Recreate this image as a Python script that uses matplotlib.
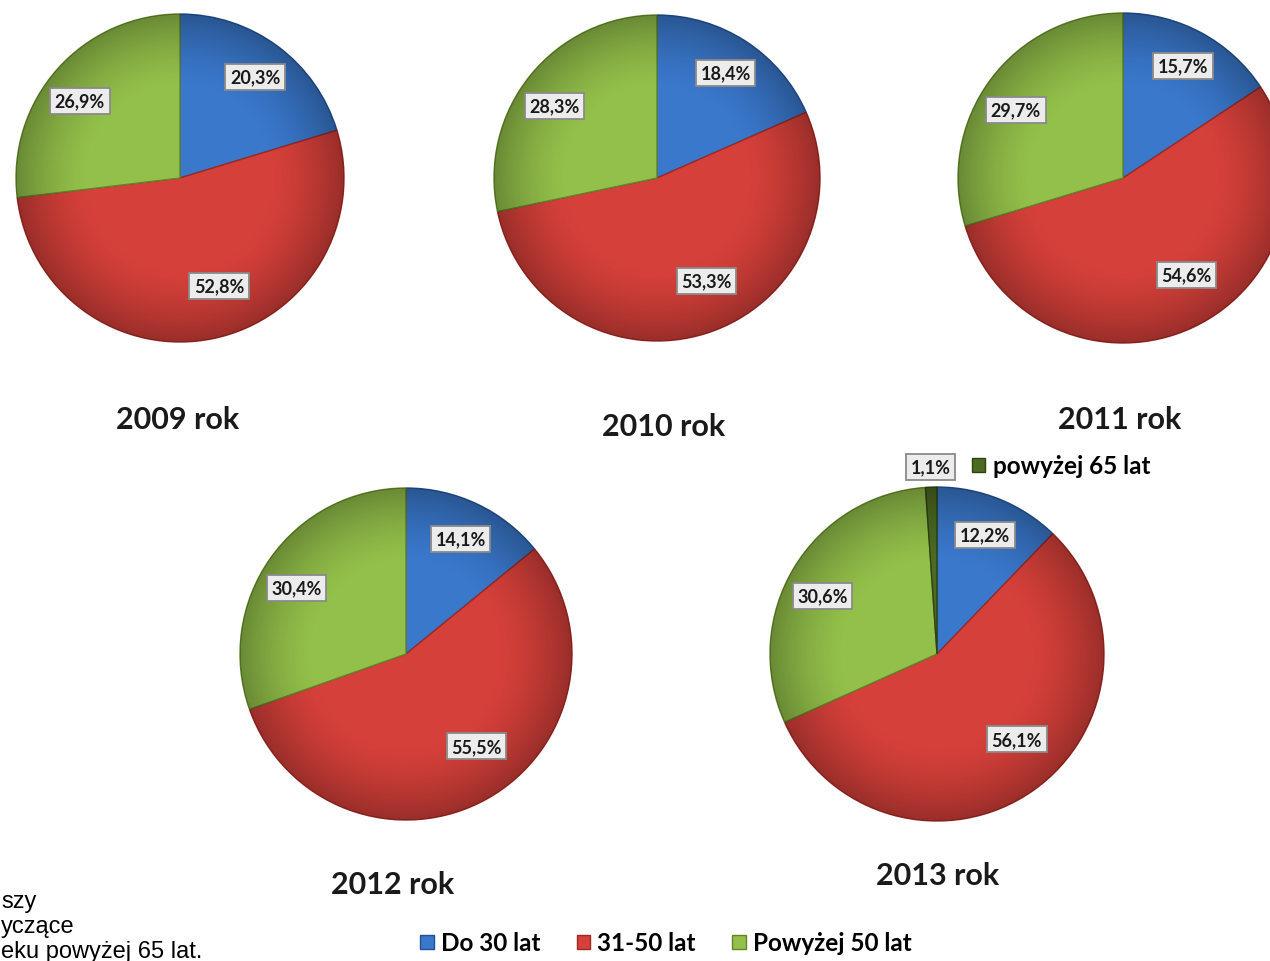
import numpy as np
import matplotlib.pyplot as plt
from matplotlib.patches import Patch, Circle

# data
years = ['2009 rok', '2010 rok', '2011 rok', '2012 rok', '2013 rok']
do_30 = [20.3, 18.4, 15.7, 14.1, 12.2]
lat_31_50 = [52.8, 53.3, 54.6, 55.5, 56.1]
pow_50 = [26.9, 28.3, 29.7, 30.4, 30.6]
pow_65 = [0, 0, 0, 0, 1.1]
legend_labels = ['Do 30 lat', '31-50 lat', 'Powyżej 50 lat']
extra_label = 'powyżej 65 lat'
note_lines = ['szy', 'yczące', 'eku powyżej 65 lat.']

colors = ['#3a78cc', '#d6403a', '#93c04a', '#4b6a22']
edges = ['#24508f', '#9c2a25', '#62852b', '#2e4214']
# label placement per slice: (distance from centre, angle nudge in degrees)
label_place = [(0.77, 0), (0.70, 8), (0.77, 4), (1.12, 0)]

W, H = 1270, 962
fig = plt.figure(figsize=(12.7, 9.62), dpi=100)
fig.patch.set_facecolor('white')

# pie centre / radius in pixels, title position
layout = [
    (180, 179, 164, 178, 420),
    (657, 179, 163, 664, 427),
    (1123, 179, 165, 1120, 420),
    (406, 655, 166, 393, 885),
    (937, 655, 167, 938, 876),
]

label_font = dict(family='Lato', weight='bold', size=13, color='#1a1a1a')
box = dict(boxstyle='square,pad=0.25', facecolor='#ececec', edgecolor='#8a8a8a', linewidth=1.3)

# radial shading to mimic the bevelled look
g = np.linspace(-1, 1, 300)
gx, gy = np.meshgrid(g, g)
rr = np.hypot(gx, gy)
shade = np.zeros((300, 300, 4))
shade[..., 3] = np.clip((rr - 0.55) / 0.45, 0, 1) ** 1.5 * 0.28


def pct_fmt(p):
    return f'{p:.1f}%'.replace('.', ',')


for i, (cx, cy, r, tx, ty) in enumerate(layout):
    ax = fig.add_axes([(cx - r) / W, (H - cy - r) / H, 2 * r / W, 2 * r / H])
    vals = [do_30[i], lat_31_50[i], pow_50[i], pow_65[i]]
    keep = [k for k, v in enumerate(vals) if v > 0]
    wedges, _, autotexts = ax.pie(
        [vals[k] for k in keep],
        colors=[colors[k] for k in keep],
        startangle=90, counterclock=False,
        autopct=pct_fmt, pctdistance=0.72,
        wedgeprops=dict(linewidth=1.0),
        textprops=label_font,
    )
    for w, k in zip(wedges, keep):
        w.set_edgecolor(edges[k])
        w.set_clip_on(False)
    for w, t, k in zip(wedges, autotexts, keep):
        d, nudge = label_place[k]
        ang = np.deg2rad((w.theta1 + w.theta2) / 2 + nudge)
        t.set_position((d * np.cos(ang), d * np.sin(ang)))
        t.set_bbox(box)
        t.set_clip_on(False)
        t.set_zorder(5)
    im = ax.imshow(shade, extent=(-1, 1, -1, 1), zorder=2, interpolation='bilinear')
    im.set_clip_path(Circle((0, 0), 1, transform=ax.transData))
    ax.set_xlim(-1, 1)
    ax.set_ylim(-1, 1)
    ax.set_aspect('auto')
    ax.axis('off')

    fig.text(tx / W, 1 - ty / H, years[i], ha='center', va='center',
             family='Lato', weight='bold', size=22, color='#1a1a1a')

# legend for the extra 2013 slice
fig.legend(handles=[Patch(facecolor=colors[3], edgecolor=edges[3])], labels=[extra_label],
           loc='center left', bbox_to_anchor=(950 / W, 1 - 467 / H), frameon=False,
           handlelength=0.55, handleheight=0.55, handletextpad=0.3,
           prop=dict(family='Lato', weight='bold', size=17.5))

# bottom legend
fig.legend(handles=[Patch(facecolor=c, edgecolor=e) for c, e in zip(colors[:3], edges[:3])],
           labels=legend_labels, loc='center', bbox_to_anchor=(666 / W, 1 - 944 / H),
           ncol=3, frameon=False, handlelength=0.55, handleheight=0.55,
           handletextpad=0.3, columnspacing=1.5,
           prop=dict(family='Lato', weight='bold', size=17.5))

# partly visible note at bottom left
for j, line in enumerate(note_lines):
    fig.text(1 / W, 1 - (902 + 25 * j) / H, line, ha='left', va='center',
             family='Liberation Sans', size=17, color='black')

fig.savefig('out.png', dpi=100)
